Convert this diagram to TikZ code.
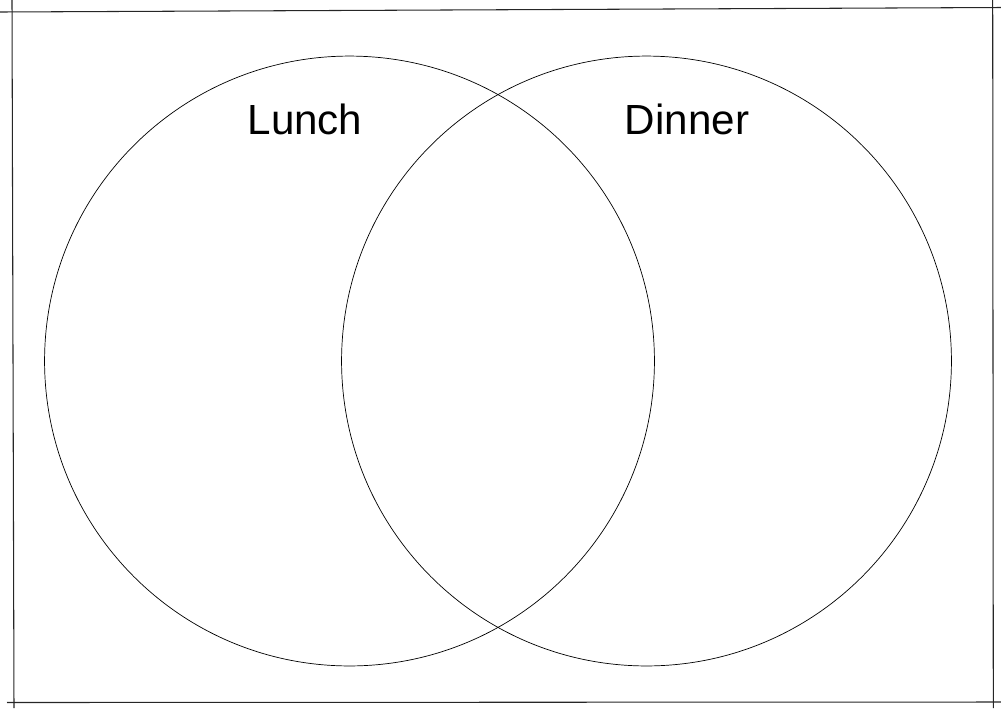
\documentclass[tikz,border=0pt]{standalone}
\usepackage{fontspec}
\setmainfont{Liberation Sans}
\usetikzlibrary{positioning}

\begin{document}
\begin{tikzpicture}[
        x=0.02cm, y=-0.02cm,
        set/.style={draw, circle, thin, minimum size=12.2cm, inner sep=0pt},
        rule/.style={draw, line width=0.6pt, black!85},
        title/.style={anchor=base, font=\fontsize{24}{28}\selectfont, inner sep=0pt}
    ]
        \useasboundingbox (0,0) rectangle (1001,708);

        % frame lines
        \coordinate (tl) at (0,12);
        \coordinate (tr) at (1001,7.5);
        \coordinate (bl) at (7,702.5);
        \coordinate (br) at (1001,702);
        \coordinate (lt) at (12,0);
        \coordinate (lb) at (14,708);
        \coordinate (rt) at (992.7,0);
        \coordinate (rb) at (993.3,708);
        \draw[rule] (tl) -- (tr);
        \draw[rule] (bl) -- (br);
        \draw[rule] (lt) -- (lb);
        \draw[rule] (rt) -- (rb);

        \node[set] (lunch) at (349.5,361) {};
        \node[set] (dinner) at (646.5,361) {};

        \node[title] (lunchlbl) at (305,134) {Lunch};
        \node[title] (dinnerlbl) at (687,134) {Dinner};
    \end{tikzpicture}
\end{document}
